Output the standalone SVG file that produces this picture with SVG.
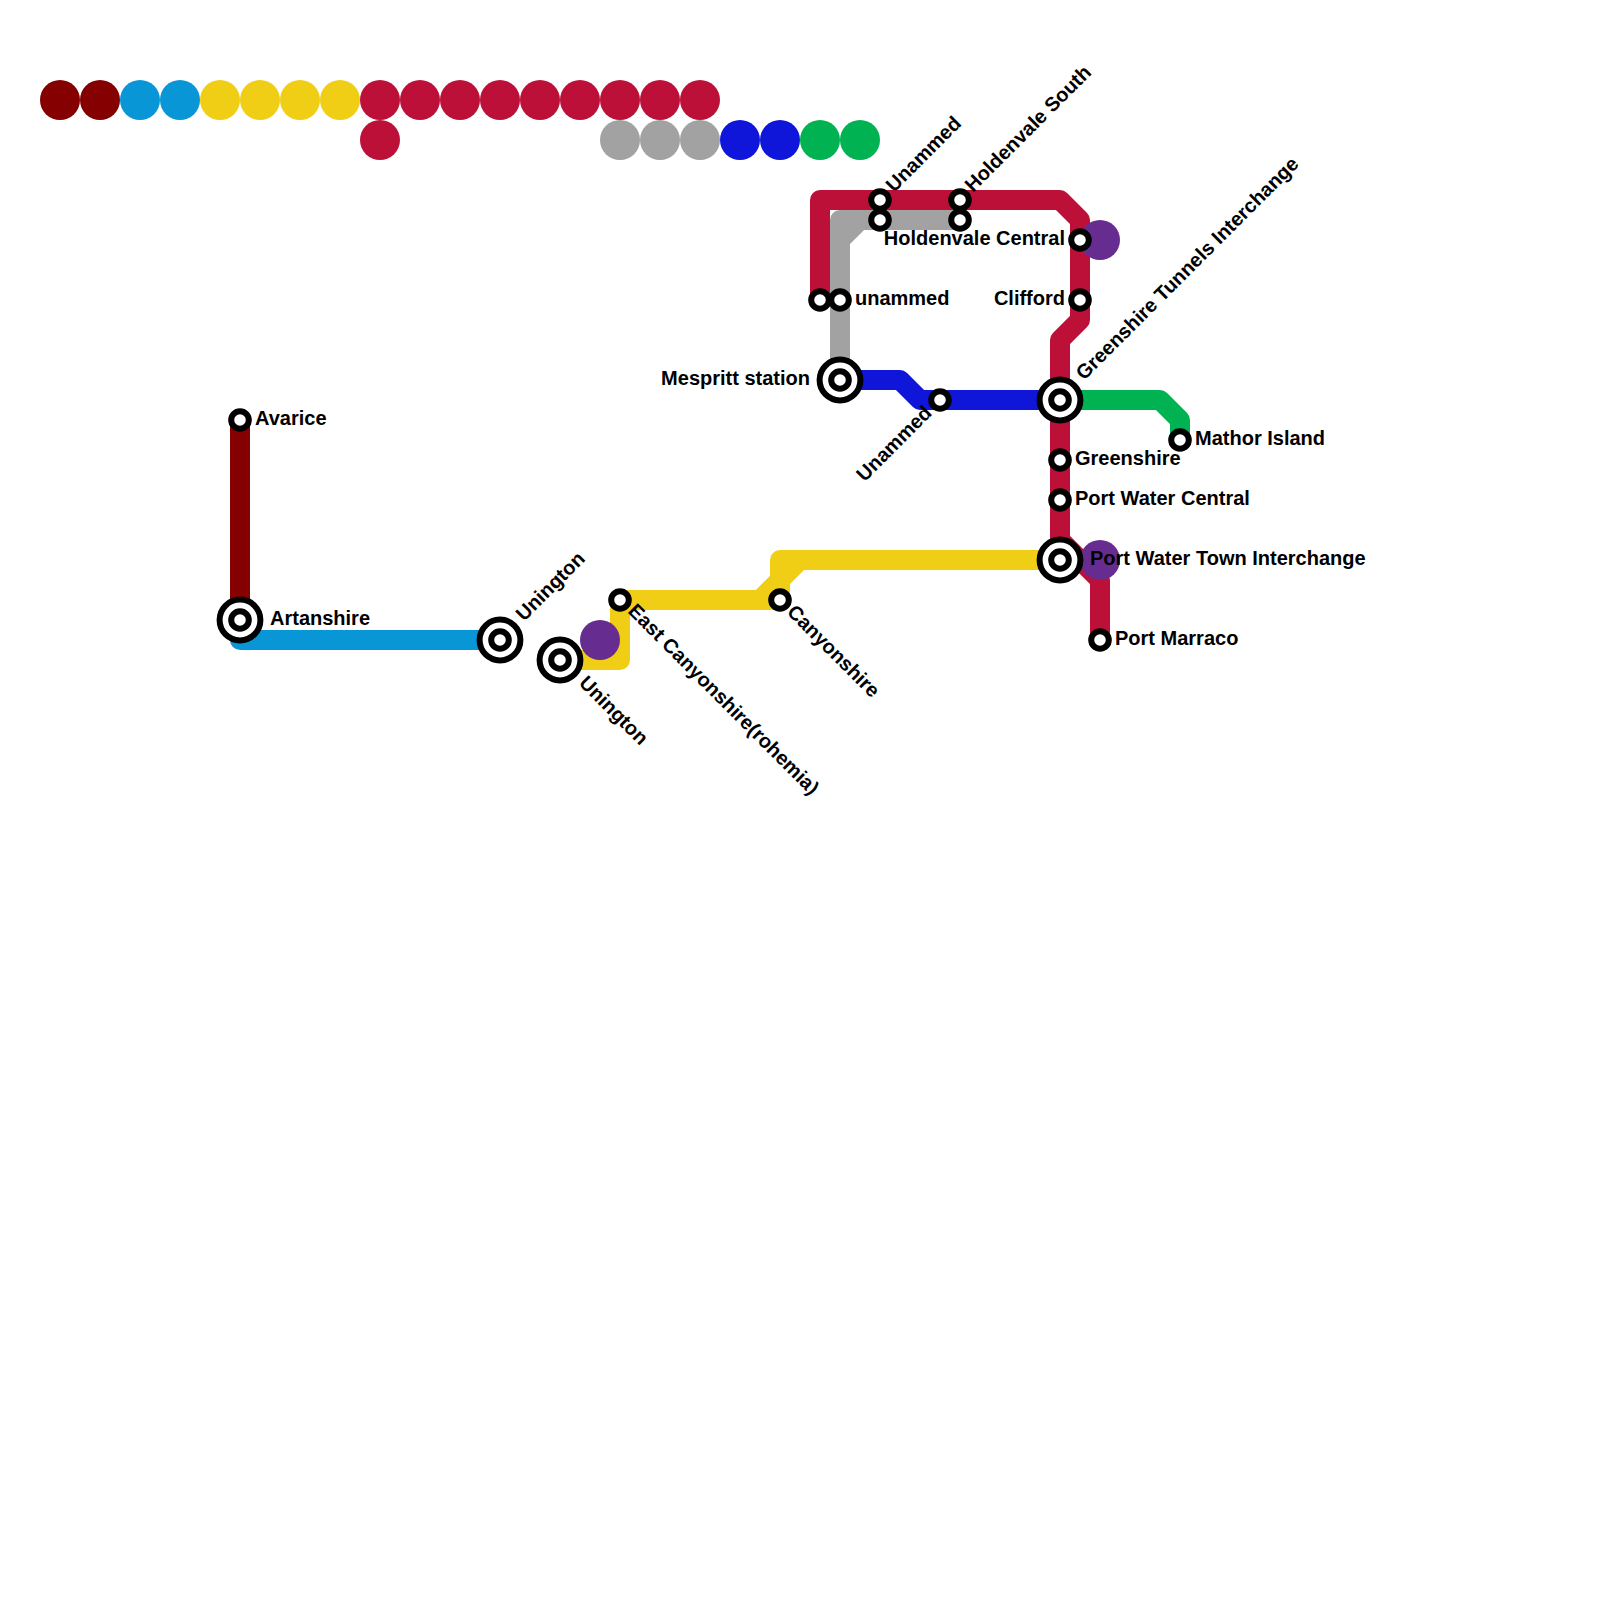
<svg xmlns="http://www.w3.org/2000/svg" width="1600" height="1600" viewBox="0 0 1600 1600">
<style>
text{font-family:"Liberation Sans",Arial,sans-serif;font-weight:700;font-size:20px;fill:#000}
.l{fill:none;stroke-width:20;stroke-linejoin:round;stroke-linecap:butt}
.a{fill:#850000}.b{fill:#0896d7}.y{fill:#f0ce15}.r{fill:#bd1038}.g{fill:#a2a2a2}.n{fill:#0f16da}.e{fill:#00b251}.p{fill:#662c90}
.o{fill:#fff;stroke:#000;stroke-width:6}
.e2{text-anchor:end}
</style>
<defs>
<g id="s"><circle r="8.8" class="o"/></g>
<g id="t"><circle r="20.4" class="o"/><circle r="8.8" class="o"/></g>
</defs>
<rect width="1600" height="1600" fill="#fff"/>
<g id="swatches">
<circle cx="60" cy="100" r="20" class="a"/><circle cx="100" cy="100" r="20" class="a"/>
<circle cx="140" cy="100" r="20" class="b"/><circle cx="180" cy="100" r="20" class="b"/>
<circle cx="220" cy="100" r="20" class="y"/><circle cx="260" cy="100" r="20" class="y"/><circle cx="300" cy="100" r="20" class="y"/><circle cx="340" cy="100" r="20" class="y"/>
<circle cx="380" cy="100" r="20" class="r"/><circle cx="420" cy="100" r="20" class="r"/><circle cx="460" cy="100" r="20" class="r"/><circle cx="500" cy="100" r="20" class="r"/><circle cx="540" cy="100" r="20" class="r"/><circle cx="580" cy="100" r="20" class="r"/><circle cx="620" cy="100" r="20" class="r"/><circle cx="660" cy="100" r="20" class="r"/><circle cx="700" cy="100" r="20" class="r"/>
<circle cx="380" cy="140" r="20" class="r"/>
<circle cx="620" cy="140" r="20" class="g"/><circle cx="660" cy="140" r="20" class="g"/><circle cx="700" cy="140" r="20" class="g"/>
<circle cx="740" cy="140" r="20" class="n"/><circle cx="780" cy="140" r="20" class="n"/>
<circle cx="820" cy="140" r="20" class="e"/><circle cx="860" cy="140" r="20" class="e"/>
</g>
<g id="connectors">
<path class="l" stroke="#850000" d="M240 420V620"/>
<path class="l" stroke="#0896d7" d="M240 620V640H500"/>
<path class="l" stroke="#f0ce15" d="M560 660H620V600H760L780 580V560H1060"/>
<path class="l" stroke="#f0ce15" d="M740 600H780V580L800 560H1060"/>
<path class="l" stroke="#a2a2a2" d="M840 380V240L860 220H960"/>
<path class="l" stroke="#a2a2a2" d="M840 300V220H880"/>
<path class="l" stroke="#0f16da" d="M840 380H900L920 400H1060"/>
<path class="l" stroke="#00b251" d="M1060 400H1160L1180 420V440"/>
<path class="l" stroke="#bd1038" d="M820 300V200H1060L1080 220V320L1060 340V540L1100 580V640"/>
</g>
<g id="purple">
<circle cx="1100" cy="240" r="20" class="p"/><circle cx="1100" cy="560" r="20" class="p"/><circle cx="600" cy="640" r="20" class="p"/>
</g>
<g id="n-avarice"><use href="#s" x="240" y="420"/><text x="255" y="425">Avarice</text></g>
<g id="n-artanshire"><use href="#t" x="240" y="620"/><text x="270" y="625">Artanshire</text></g>
<g id="n-unington1"><use href="#t" x="500" y="640"/><text transform="translate(524 622) rotate(-45)">Unington</text></g>
<g id="n-unington2"><use href="#t" x="560" y="660"/><text transform="translate(578 684) rotate(45)">Unington</text></g>
<g id="n-east"><use href="#s" x="620" y="600"/><text transform="translate(627 612) rotate(45)">East Canyonshire(rohemia)</text></g>
<g id="n-canyon"><use href="#s" x="780" y="600"/><text transform="translate(786 613) rotate(45)">Canyonshire</text></g>
<g id="n-unammed-a"><use href="#s" x="820" y="300"/></g>
<g id="n-unammed-b"><use href="#s" x="840" y="300"/><text x="855" y="305">unammed</text></g>
<g id="n-mespritt"><use href="#t" x="840" y="380"/><text class="e2" x="810" y="385">Mespritt station</text></g>
<g id="n-unammed-c"><use href="#s" x="880" y="200"/><text transform="translate(894 193) rotate(-45)">Unammed</text></g>
<g id="n-unammed-d"><use href="#s" x="880" y="220"/></g>
<g id="n-holdenvale-south"><use href="#s" x="960" y="200"/><text transform="translate(973 193) rotate(-45)">Holdenvale South</text></g>
<g id="n-holdenvale-2"><use href="#s" x="960" y="220"/></g>
<g id="n-unammed-e"><use href="#s" x="940" y="400"/><text class="e2" transform="translate(933 414) rotate(-45)">Unammed</text></g>
<g id="n-holdenvale-central"><use href="#s" x="1080" y="240"/><text class="e2" x="1065" y="245">Holdenvale Central</text></g>
<g id="n-clifford"><use href="#s" x="1080" y="300"/><text class="e2" x="1065" y="305">Clifford</text></g>
<g id="n-greenshire-tunnels"><use href="#t" x="1060" y="400"/><text transform="translate(1084 381) rotate(-45)">Greenshire Tunnels Interchange</text></g>
<g id="n-mathor"><use href="#s" x="1180" y="440"/><text x="1195" y="445">Mathor Island</text></g>
<g id="n-greenshire"><use href="#s" x="1060" y="460"/><text x="1075" y="465">Greenshire</text></g>
<g id="n-port-water-central"><use href="#s" x="1060" y="500"/><text x="1075" y="505">Port Water Central</text></g>
<g id="n-port-water-town"><use href="#t" x="1060" y="560"/><text x="1090" y="565">Port Water Town Interchange</text></g>
<g id="n-port-marraco"><use href="#s" x="1100" y="640"/><text x="1115" y="645">Port Marraco</text></g>
</svg>
